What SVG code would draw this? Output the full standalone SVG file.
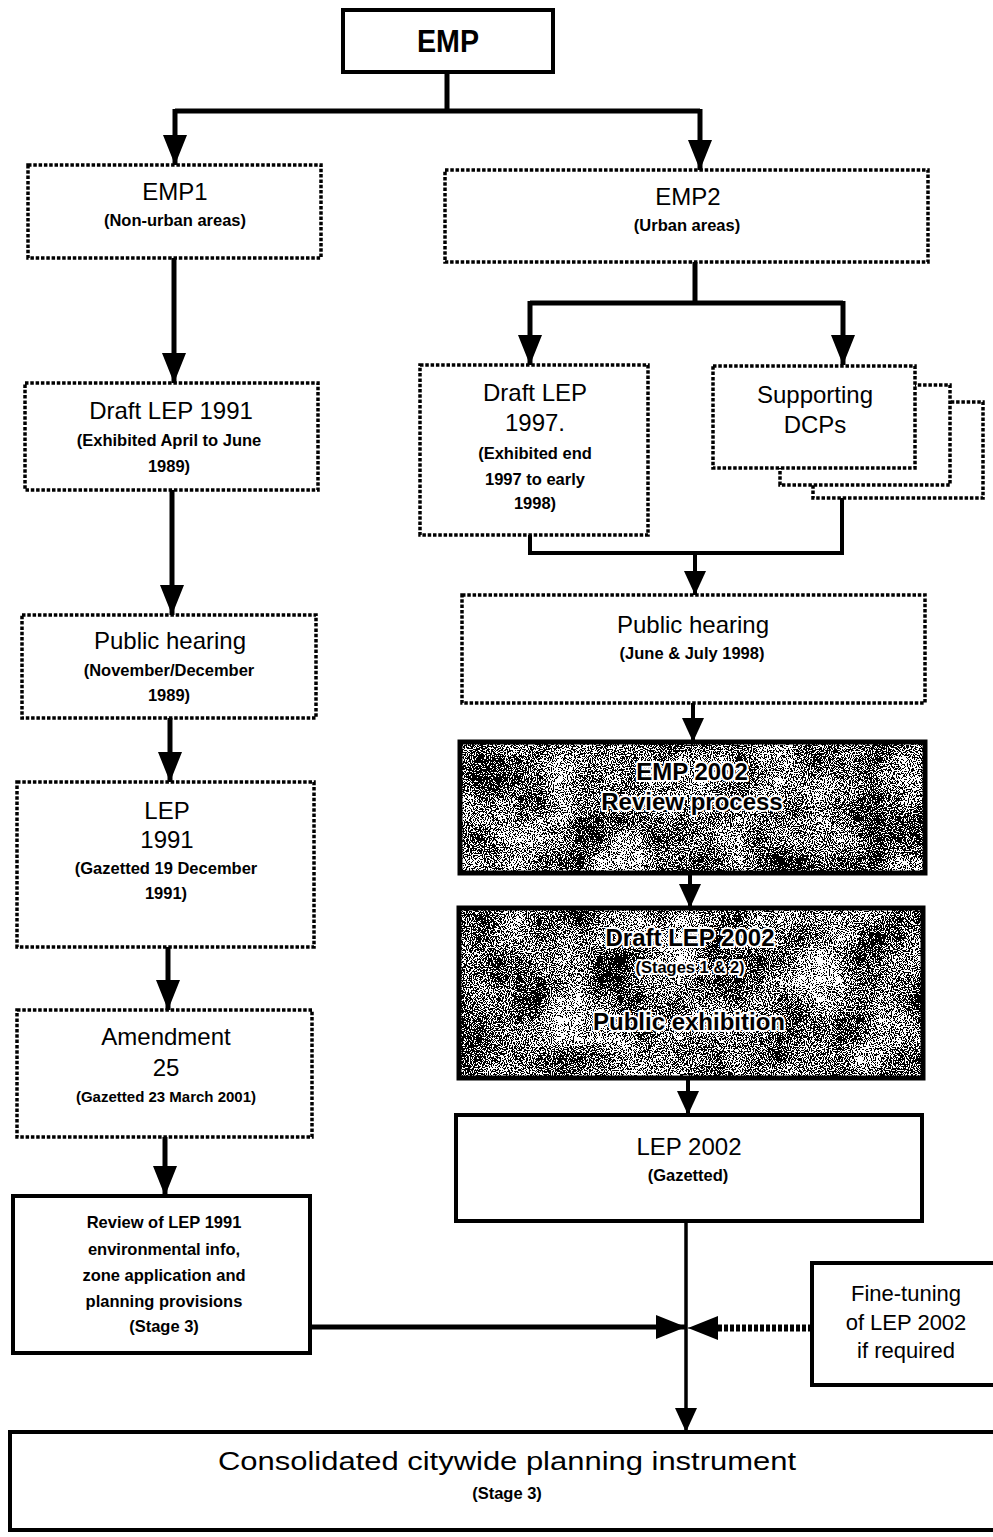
<svg xmlns="http://www.w3.org/2000/svg" width="993" height="1537" viewBox="0 0 993 1537">
<style>
  text { font-family: "Liberation Sans", Arial, sans-serif; fill: #000; text-anchor: middle; }
  .t { font-size: 24px; }
  .s { font-size: 16.5px; font-weight: bold; }
  .dot { fill: #fff; stroke: #000; stroke-width: 3.5; stroke-dasharray: 3.5 1.8; }
  .sol { fill: #fff; stroke: #000; stroke-width: 4; }
  .shade { stroke: #000; stroke-width: 5; }
  .halo { stroke: #fff; stroke-width: 4; paint-order: stroke; stroke-linejoin: round; font-weight: bold; }
  .c { fill: none; stroke: #000; }
</style>
<defs>
  <marker id="ah" viewBox="0 0 30 24" markerWidth="30" markerHeight="24" refX="30" refY="12" orient="auto" markerUnits="userSpaceOnUse">
    <path d="M0,0 L30,12 L0,24 z" fill="#000"/>
  </marker>
  <marker id="ahs" viewBox="0 0 24 22" markerWidth="24" markerHeight="22" refX="24" refY="11" orient="auto" markerUnits="userSpaceOnUse">
    <path d="M0,0 L24,11 L0,22 z" fill="#000"/>
  </marker>
  <filter id="noise" x="0" y="0" width="100%" height="100%" color-interpolation-filters="sRGB">
    <feTurbulence type="fractalNoise" baseFrequency="0.95" numOctaves="2" seed="3" result="t1"/>
    <feColorMatrix in="t1" type="matrix" values="1 0 0 0 0  1 0 0 0 0  1 0 0 0 0  0 0 0 0 1" result="g1"/>
    <feTurbulence type="fractalNoise" baseFrequency="0.02" numOctaves="2" seed="9" result="t2"/>
    <feColorMatrix in="t2" type="matrix" values="1 0 0 0 0  1 0 0 0 0  1 0 0 0 0  0 0 0 0 1" result="g2"/>
    <feComposite in="g1" in2="g2" operator="arithmetic" k1="0" k2="3" k3="1.1" k4="-1.58" result="mix"/>
    <feComponentTransfer in="mix">
      <feFuncR type="discrete" tableValues="0 1"/>
      <feFuncG type="discrete" tableValues="0 1"/>
      <feFuncB type="discrete" tableValues="0 1"/>
      <feFuncA type="linear" slope="0" intercept="1"/>
    </feComponentTransfer>
  </filter>
</defs>

<g id="connectors">
  <path class="c" stroke-width="5" d="M447,72 V111 M175,111 H700"/>
  <path class="c" stroke-width="5" d="M175,109 V165" marker-end="url(#ah)"/>
  <path class="c" stroke-width="5" d="M700,109 V170" marker-end="url(#ah)"/>
  <path class="c" stroke-width="5" d="M174,258 V383" marker-end="url(#ah)"/>
  <path class="c" stroke-width="5" d="M172,490 V615" marker-end="url(#ah)"/>
  <path class="c" stroke-width="5" d="M170,718 V782" marker-end="url(#ah)"/>
  <path class="c" stroke-width="5" d="M168,947 V1010" marker-end="url(#ah)"/>
  <path class="c" stroke-width="5" d="M165,1137 V1196" marker-end="url(#ah)"/>
  <path class="c" stroke-width="5" d="M695,262 V303 M530,303 H843"/>
  <path class="c" stroke-width="5" d="M530,301 V365" marker-end="url(#ah)"/>
  <path class="c" stroke-width="5" d="M843,301 V365" marker-end="url(#ah)"/>
  <path class="c" stroke-width="4" d="M530,535 V553 H843 M842,468 V555"/>
  <path class="c" stroke-width="4" d="M695,553 V595" marker-end="url(#ahs)"/>
  <path class="c" stroke-width="4" d="M693,703 V742" marker-end="url(#ahs)"/>
  <path class="c" stroke-width="4" d="M690,873 V908" marker-end="url(#ahs)"/>
  <path class="c" stroke-width="4" d="M688,1078 V1115" marker-end="url(#ahs)"/>
  <path class="c" stroke-width="3.5" d="M686,1221 V1432" marker-end="url(#ahs)"/>
  <path class="c" stroke-width="5" d="M310,1327 H686" marker-end="url(#ah)"/>
  <path class="c" stroke-width="7" stroke-dasharray="4 2" d="M812,1328 H716"/>
  <path class="c" stroke-width="1" d="M716,1328 H688" marker-end="url(#ah)"/>
</g>

<g id="emp">
  <rect class="sol" x="343" y="10" width="210" height="62" stroke-width="3"/>
  <text x="448" y="52" style="font-size:32px;font-weight:bold" textLength="62" lengthAdjust="spacingAndGlyphs">EMP</text>
</g>

<g id="emp1">
  <rect class="dot" x="28" y="165" width="293" height="93"/>
  <text class="t" x="175" y="200">EMP1</text>
  <text class="s" x="175" y="226">(Non-urban areas)</text>
</g>

<g id="emp2">
  <rect class="dot" x="445" y="170" width="483" height="92"/>
  <text class="t" x="688" y="205">EMP2</text>
  <text class="s" x="687" y="231">(Urban areas)</text>
</g>

<g id="draft-lep-1991">
  <rect class="dot" x="25" y="383" width="293" height="107"/>
  <text class="t" x="171" y="419">Draft LEP 1991</text>
  <text class="s" x="169" y="446">(Exhibited April to June</text>
  <text class="s" x="169" y="472">1989)</text>
</g>

<g id="public-hearing-1989">
  <rect class="dot" x="22" y="615" width="294" height="103"/>
  <text class="t" x="170" y="649">Public hearing</text>
  <text class="s" x="169" y="676">(November/December</text>
  <text class="s" x="169" y="701">1989)</text>
</g>

<g id="lep-1991">
  <rect class="dot" x="17" y="782" width="297" height="165"/>
  <text class="t" x="167" y="819">LEP</text>
  <text class="t" x="167" y="848">1991</text>
  <text class="s" x="166" y="874">(Gazetted 19 December</text>
  <text class="s" x="166" y="899">1991)</text>
</g>

<g id="amendment-25">
  <rect class="dot" x="17" y="1010" width="295" height="127"/>
  <text class="t" x="166" y="1045">Amendment</text>
  <text class="t" x="166" y="1076">25</text>
  <text class="s" x="166" y="1102" style="font-size:15px">(Gazetted 23 March 2001)</text>
</g>

<g id="review-lep-1991">
  <rect class="sol" x="13" y="1196" width="297" height="157"/>
  <text class="s" x="164" y="1228">Review of LEP 1991</text>
  <text class="s" x="164" y="1255">environmental info,</text>
  <text class="s" x="164" y="1281">zone application and</text>
  <text class="s" x="164" y="1307">planning provisions</text>
  <text class="s" x="164" y="1332">(Stage 3)</text>
</g>

<g id="draft-lep-1997">
  <rect class="dot" x="420" y="365" width="228" height="170"/>
  <text class="t" x="535" y="401">Draft LEP</text>
  <text class="t" x="535" y="431">1997.</text>
  <text class="s" x="535" y="459">(Exhibited end</text>
  <text class="s" x="535" y="485">1997 to early</text>
  <text class="s" x="535" y="509">1998)</text>
</g>

<g id="supporting-dcps">
  <rect class="dot" x="813" y="402" width="170" height="96"/>
  <rect class="dot" x="780" y="385" width="170" height="100"/>
  <rect class="dot" x="713" y="366" width="202" height="102"/>
  <text class="t" x="815" y="403">Supporting</text>
  <text class="t" x="815" y="433">DCPs</text>
</g>

<g id="public-hearing-1998">
  <rect class="dot" x="462" y="595" width="463" height="108"/>
  <text class="t" x="693" y="633">Public hearing</text>
  <text class="s" x="692" y="659">(June &amp; July 1998)</text>
</g>

<g id="emp-2002">
  <rect x="460" y="742" width="465" height="131" fill="#999" filter="url(#noise)"/>
  <rect class="shade" x="460" y="742" width="465" height="131" fill="none"/>
  <text class="t halo" x="692" y="780">EMP 2002</text>
  <text class="t halo" x="692" y="810">Review process</text>
</g>

<g id="draft-lep-2002">
  <rect x="459" y="908" width="464" height="170" fill="#999" filter="url(#noise)"/>
  <rect class="shade" x="459" y="908" width="464" height="170" fill="none"/>
  <text class="t halo" x="690" y="946">Draft LEP 2002</text>
  <text class="s halo" x="690" y="973">(Stages 1 &amp; 2)</text>
  <text class="t halo" x="689" y="1030">Public exhibition</text>
</g>

<g id="lep-2002">
  <rect class="sol" x="456" y="1115" width="466" height="106" stroke-width="5"/>
  <text class="t" x="689" y="1155">LEP 2002</text>
  <text class="s" x="688" y="1181">(Gazetted)</text>
</g>

<g id="fine-tuning">
  <rect class="sol" x="812" y="1263" width="190" height="122" stroke-width="5"/>
  <text class="t" x="906" y="1301" style="font-size:22px">Fine-tuning</text>
  <text class="t" x="906" y="1330" style="font-size:22px">of LEP 2002</text>
  <text class="t" x="906" y="1358" style="font-size:22px">if required</text>
</g>

<g id="consolidated">
  <rect class="sol" x="10" y="1432" width="995" height="98" stroke-width="5"/>
  <text class="t" x="507" y="1470" style="font-size:26px" textLength="578" lengthAdjust="spacingAndGlyphs">Consolidated citywide planning instrument</text>
  <text class="s" x="507" y="1499">(Stage 3)</text>
</g>
</svg>
